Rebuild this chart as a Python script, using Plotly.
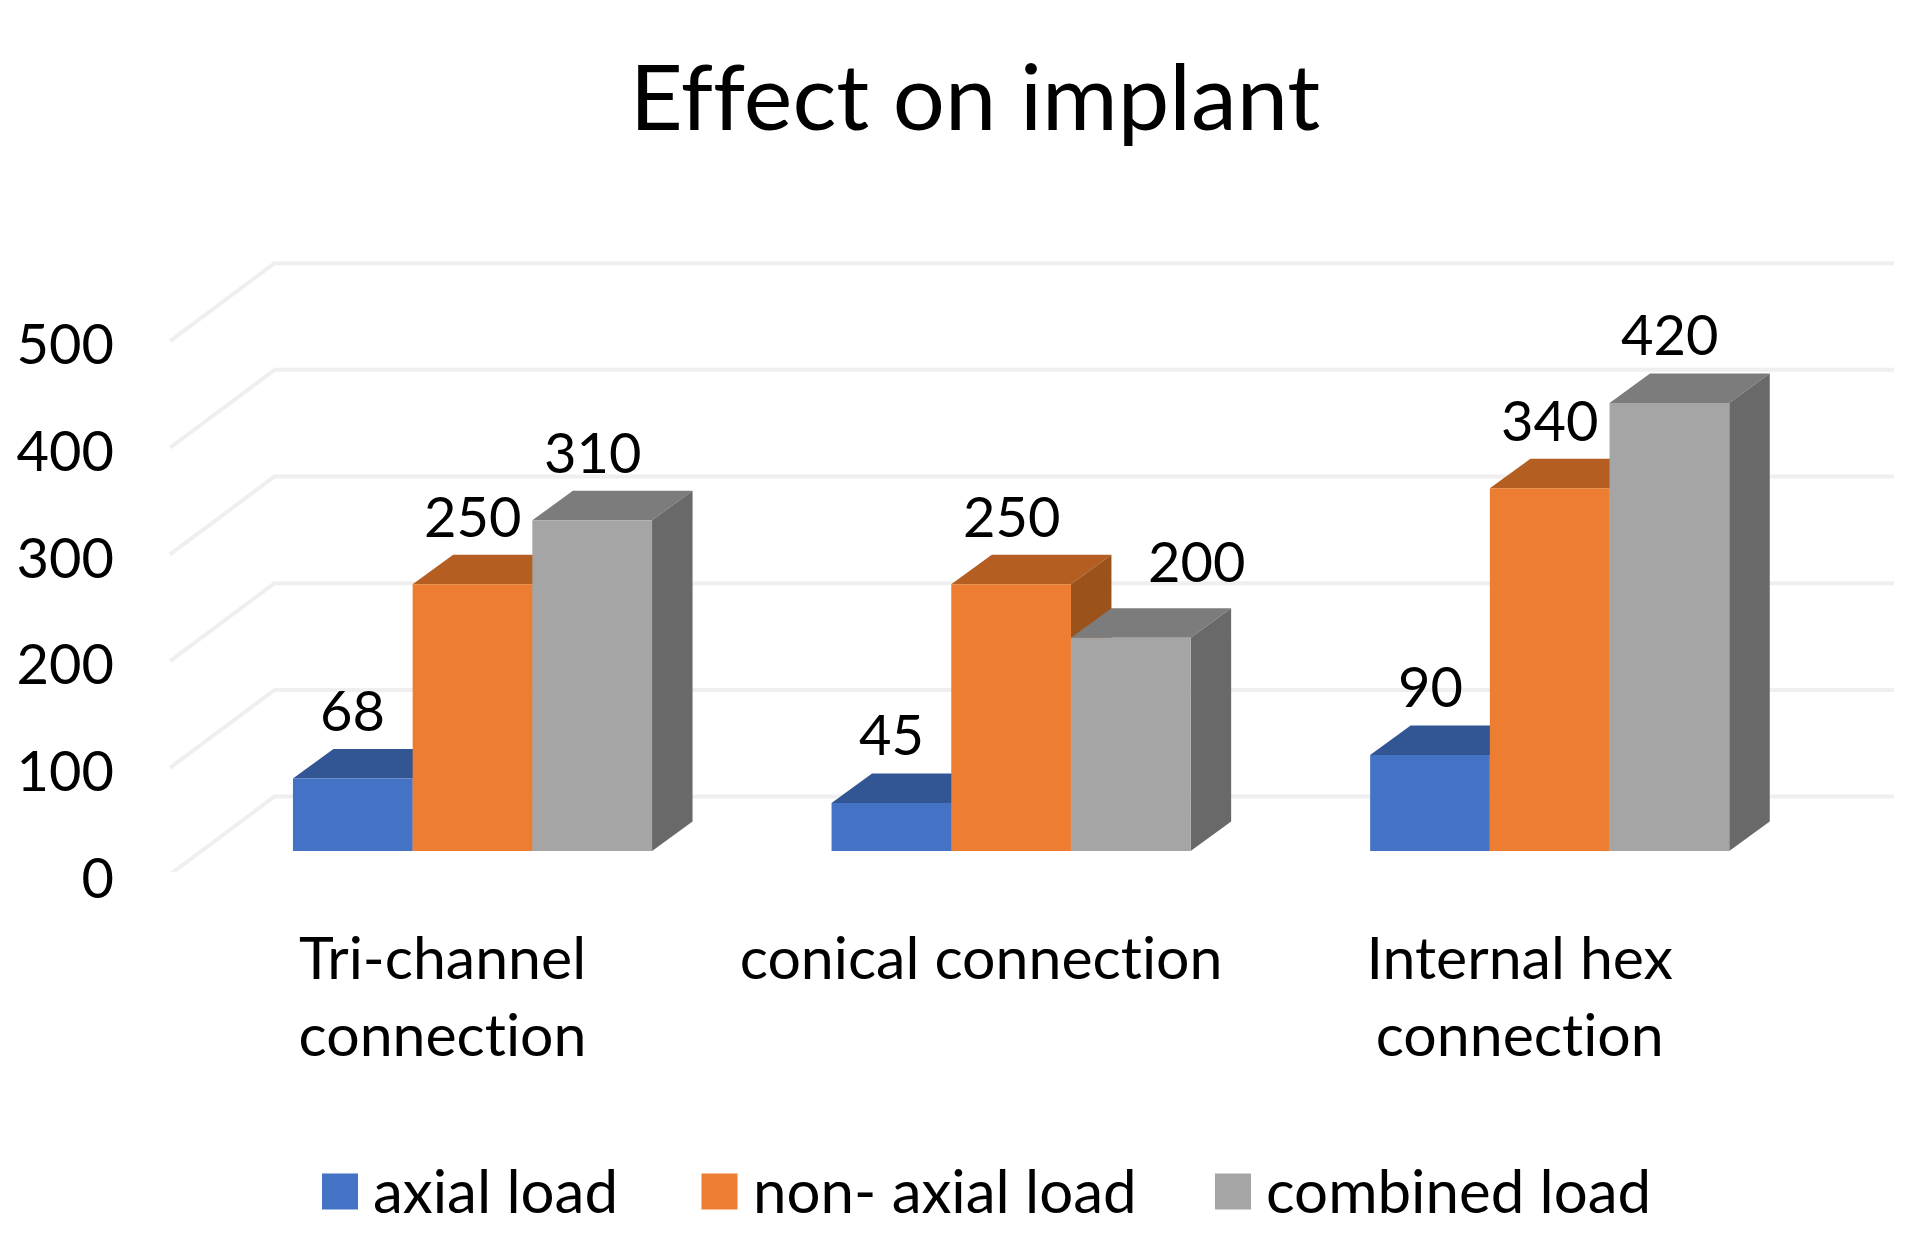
import plotly.graph_objects as go

TITLE = "Effect on implant"
CATEGORIES = ["Tri-channel<br>connection", "conical connection", "Internal hex<br>connection"]
SERIES = ["axial load", "non- axial load", "combined load"]
AXIAL = [68, 45, 90]
NON_AXIAL = [250, 250, 340]
COMBINED = [310, 200, 420]
Y_TICKS = [0, 100, 200, 300, 400, 500]

FRONT = ["#4472C4", "#ED7D31", "#A5A5A5"]
TOP = ["#325594", "#B45E21", "#7C7C7C"]
SIDE = ["#2A4A82", "#9C521B", "#696969"]
GRID = "#EFEFEF"
FONT = "Lato"

W, H = 1913, 1250
ML, MR, MT, MB = 140, 0, 250, 378
PX_PER_CAT = 538.6
PX_PER_VAL = 1.0668
X0_PX = 472.5
Y0_PX = 851.0
xr = [(ML - X0_PX) / PX_PER_CAT, (W - X0_PX) / PX_PER_CAT]
yr = [(Y0_PX - (H - MB)) / PX_PER_VAL, (Y0_PX - MT) / PX_PER_VAL]

BAR_W = 119.7 / PX_PER_CAT
DX = 40.5 / PX_PER_CAT
DY = 29.5 / PX_PER_VAL

xpos = list(range(len(CATEGORIES)))
values = [AXIAL, NON_AXIAL, COMBINED]

fig = go.Figure()
for name, vals, col in zip(SERIES, values, FRONT):
    fig.add_trace(go.Bar(x=xpos, y=vals, name=name, marker=dict(color=col, line=dict(width=0)),
                         showlegend=False, hoverinfo="x+y"))

shapes = []
# skewed gridlines (floor front -> back wall -> right)
G_FX = (170 - X0_PX) / PX_PER_CAT
G_BX = (274.5 - X0_PX) / PX_PER_CAT
G_RX = (1894 - X0_PX) / PX_PER_CAT
for t in Y_TICKS:
    shapes.append(dict(type="path", layer="below", xref="x", yref="y",
                       path=f"M {G_FX} {t-22} L {G_BX} {t+51} L {G_RX} {t+51}",
                       line=dict(color=GRID, width=4)))

# 3D faces
for c in xpos:
    for s, vals in enumerate(values):
        v = vals[c]
        l = c + (s - 1.5) * BAR_W
        r = l + BAR_W
        shapes.append(dict(type="path", layer="below", xref="x", yref="y",
                           path=f"M {l} {v} L {l+DX} {v+DY} L {r+DX} {v+DY} L {r} {v} Z",
                           fillcolor=TOP[s], line=dict(width=0)))
        shapes.append(dict(type="path", layer="below", xref="x", yref="y",
                           path=f"M {r} 0 L {r+DX} {DY} L {r+DX} {v+DY} L {r} {v} Z",
                           fillcolor=SIDE[s], line=dict(width=0)))

annotations = []
LABEL_XSHIFT = {(1, 2): 66}
for c in xpos:
    for s, vals in enumerate(values):
        annotations.append(dict(x=c + (s - 1) * BAR_W, y=vals[c], xref="x", yref="y", text=str(vals[c]),
                                showarrow=False, yanchor="middle", xanchor="center",
                                xshift=LABEL_XSHIFT.get((c, s), 0), yshift=69 + (8 if (c, s) == (1, 2) else 0),
                                font=dict(family=FONT, size=56, color="black")))

def px(x):
    return (x - ML) / (W - ML - MR)
def py(y):
    return 1 - (y - MT) / (H - MT - MB)

LEG_SWATCH = [322, 701.5, 1215]
LEG_TEXT = [371, 750.5, 1264]
for name, col, sx, tx in zip(SERIES, FRONT, LEG_SWATCH, LEG_TEXT):
    shapes.append(dict(type="rect", xref="paper", yref="paper", layer="above",
                       x0=px(sx), x1=px(sx + 36), y0=py(1173.5), y1=py(1209.5),
                       fillcolor=col, line=dict(width=0)))
    annotations.append(dict(x=px(tx), y=py(1190), xref="paper", yref="paper", text=name, showarrow=False,
                            xanchor="left", yanchor="middle", font=dict(family=FONT, size=60, color="black")))

fig.update_layout(
    width=W, height=H, autosize=False,
    margin=dict(l=ML, r=MR, t=MT, b=MB, pad=0),
    paper_bgcolor="white", plot_bgcolor="rgba(0,0,0,0)",
    barmode="group", bargap=1 - 3 * BAR_W, bargroupgap=0,
    title=dict(text=TITLE, x=975 / W, xanchor="center", y=1 - 98 / H, yanchor="middle",
               font=dict(family=FONT, size=92, color="black")),
    xaxis=dict(range=xr, tickmode="array", tickvals=xpos, ticktext=CATEGORIES, showgrid=False, zeroline=False,
               showline=False, ticks="", ticklen=0, ticklabelstandoff=47, ticklabelshift=-30,
               tickfont=dict(family=FONT, size=59, color="black"), tickangle=0),
    yaxis=dict(range=yr, tickmode="array", tickvals=Y_TICKS, showgrid=False, zeroline=False,
               showline=False, ticks="", ticklen=0, ticklabelstandoff=25, ticklabelshift=27,
               tickfont=dict(family=FONT, size=56, color="black")),
    shapes=shapes, annotations=annotations, showlegend=False,
)

POST = ("document.body.style.margin='0';document.documentElement.style.overflow='hidden';"
        "var st=document.createElement('style');"
        "st.textContent='text{font-variant-ligatures:none !important;}';"
        "document.head.appendChild(st);")
fig.write_html("out.html", post_script=POST, config={"displayModeBar": False})
